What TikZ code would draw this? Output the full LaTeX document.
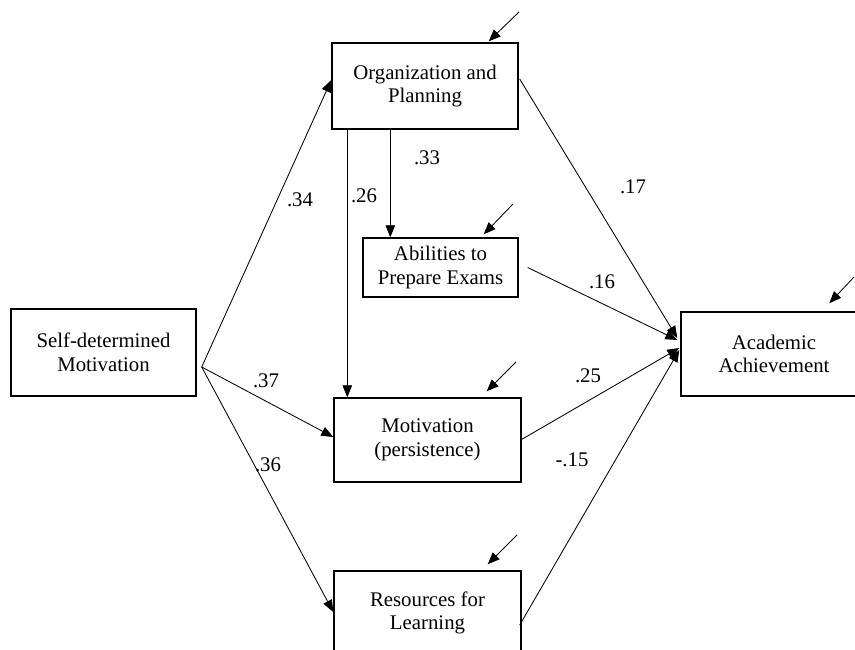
\documentclass[tikz,border=0pt]{standalone}
\usepackage{fontspec}
\setmainfont{Liberation Serif}
\usetikzlibrary{arrows.meta,calc}
\begin{document}
\begin{tikzpicture}[x=1pt,y=-1pt,
  box/.style={draw, line width=1.4pt, rectangle, align=center, inner sep=0pt,
    font=\fontsize{20.8}{23.5}\selectfont},
  conn/.style={line width=0.85pt, -{Triangle[length=12pt,width=9.5pt]}},
  lbl/.style={font=\fontsize{20.8}{24}\selectfont, inner sep=0pt}]
\clip (0,0) rectangle (855,650);
\fill[white] (0,0) rectangle (855,650);

% boxes
\node[box, minimum width=185pt, minimum height=87pt] (sdm) at (103.5,352.5) {Self-determined\\Motivation};
\node[box, minimum width=186pt, minimum height=86pt] (org) at (425,86) {Organization and\\Planning};
\node[box, minimum width=155pt, minimum height=59pt] (abil) at (440.5,267.5) {Abilities to\\Prepare Exams};
\node[box, minimum width=187pt, minimum height=84pt] (mot) at (427.5,440) {Motivation\\(persistence)};
\node[box, minimum width=187pt, minimum height=84pt] (res) at (427.5,613) {Resources for\\Learning};
\node[box, minimum width=186pt, minimum height=84pt] (acad) at (774,354) {Academic\\Achievement};

% source point of Self-determined Motivation
\coordinate (sdmout) at ($(sdm.east)+(5,14.5)$);
\draw[conn] (sdmout) -- ($(org.west)+(0,-6)$);
\draw[conn] (sdmout) -- ($(mot.west)+(0,-3)$);
\draw[conn] (sdmout) -- ($(res.west)+(0,-1)$);

% vertical arrows from Organization
\coordinate (orgA) at ($(org.south west)+(16,0)$);
\coordinate (orgB) at ($(org.south west)+(59,0)$);
\draw[conn] (orgA) -- (orgA |- mot.north);
\draw[conn] (orgB) -- (orgB |- abil.north);

% arrows to Academic Achievement
\draw[conn] ($(org.east)+(1,-7)$) -- ($(acad.west)+(-3,-16)$);
\draw[conn] ($(abil.east)+(9,0)$) -- ($(acad.west)+(-3,-14)$);
\draw[conn] ($(mot.east)+(-1,0)$) -- ($(acad.west)+(-1,-6)$);
\draw[conn] ($(res.east)+(-2,12)$) -- ($(acad.west)+(-1,-4)$);

% disturbance arrows
\coordinate (dorg) at (519,12);
\coordinate (dabil) at (513,204);
\coordinate (dacad) at (854,277);
\coordinate (dmot) at (516,362);
\coordinate (dres) at (517,535);
\draw[conn] (dorg) -- ($(org.north east)+(-30,-1)$);
\draw[conn] (dabil) -- ($(abil.north east)+(-35,-3)$);
\draw[conn] (dacad) -- ($(acad.north west)+(149,-8)$);
\draw[conn] (dmot) -- ($(mot.north east)+(-35,-6)$);
\draw[conn] (dres) -- ($(res.north east)+(-34,-6)$);

% coefficients
\node[lbl] (l34) at (300,200) {.34};
\node[lbl] (l37) at (266,381) {.37};
\node[lbl] (l36) at (268,465) {.36};
\node[lbl] (l26) at (364,196) {.26};
\node[lbl] (l33) at (427,158) {.33};
\node[lbl] (l17) at (633,187) {.17};
\node[lbl] (l16) at (602,282) {.16};
\node[lbl] (l25) at (588,376) {.25};
\node[lbl] (l15) at (572,460) {-.15};
\end{tikzpicture}
\end{document}
